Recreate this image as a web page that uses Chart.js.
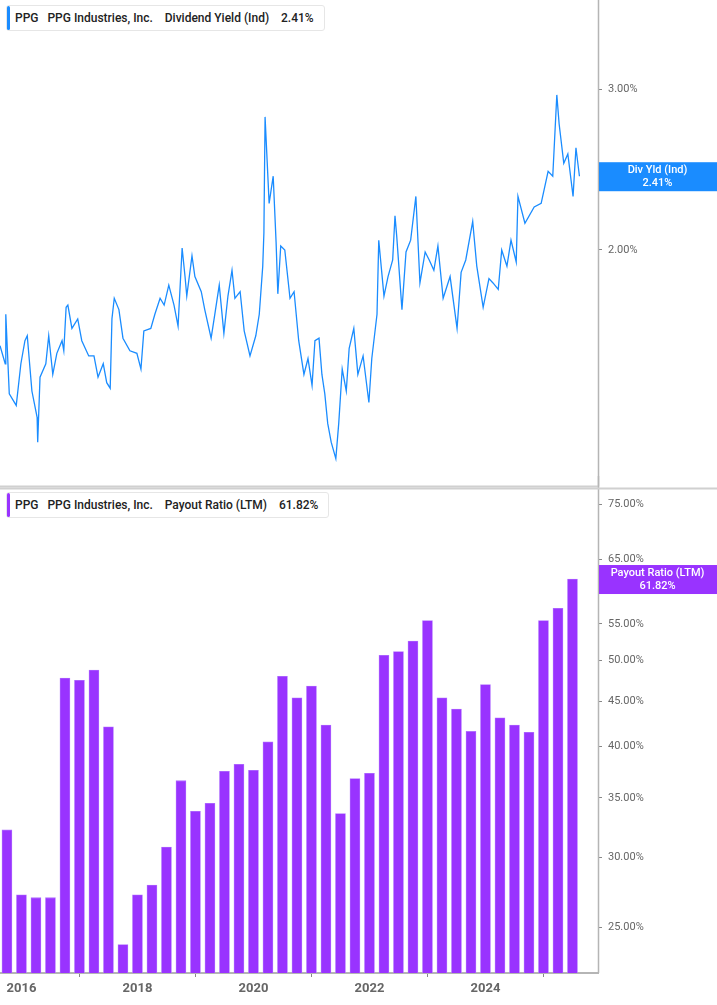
<!DOCTYPE html>
<html>
<head>
<meta charset="utf-8">
<script src="https://cdn.jsdelivr.net/npm/chart.js@4.4.0/dist/chart.umd.min.js"></script>
<style>
  body { margin: 0; background: #fff; font-family: Roboto, sans-serif; }
  .wrap { position: relative; width: 717px; height: 1005px; overflow: hidden; }
  .pane { position: absolute; left: 0; width: 717px; }
  .legend { position: absolute; left: 6px; background: #fff; border: 1px solid #e6e6e6; border-radius: 3px;
            font-size: 12px; font-weight: 500; color: #222; padding: 5px 10px 5px 8px; white-space: pre; }
  .legend::before { content: ""; position: absolute; left: 0; top: 0; bottom: 0; width: 3px; border-radius: 2px; }
  #leg1::before { background: #1a8cff; }
  #leg2::before { background: #9933ff; }
</style>
</head>
<body>
<div class="wrap">
  <div class="pane" style="top:-7px;height:506px"><canvas id="yieldChart"></canvas></div>
  <div class="pane" style="top:476px;height:529px"><canvas id="payoutChart"></canvas></div>
  <div class="legend" id="leg1" style="top:5px">PPG   PPG Industries, Inc.    Dividend Yield (Ind)    2.41%</div>
  <div class="legend" id="leg2" style="top:492px">PPG   PPG Industries, Inc.    Payout Ratio (LTM)    61.82%</div>
</div>
<script>
// ======= data =======
const yieldDates = [2015.63, 2015.72, 2015.73, 2015.79, 2015.91, 2015.99, 2016.06, 2016.10, 2016.18, 2016.27, 2016.28, 2016.32,
  2016.42, 2016.47, 2016.54, 2016.61, 2016.70, 2016.73, 2016.77, 2016.80, 2016.87, 2016.97, 2017.04, 2017.16, 2017.25,
  2017.32, 2017.41, 2017.47, 2017.53, 2017.56, 2017.60, 2017.68, 2017.75, 2017.87, 2017.99, 2018.06, 2018.11, 2018.23,
  2018.30, 2018.39, 2018.46, 2018.54, 2018.63, 2018.70, 2018.77, 2018.82, 2018.85, 2018.94, 2018.99, 2019.10, 2019.16,
  2019.27, 2019.34, 2019.41, 2019.49, 2019.56, 2019.63, 2019.68, 2019.77, 2019.84, 2019.94, 2020.04, 2020.10, 2020.16,
  2020.18, 2020.20, 2020.23, 2020.27, 2020.34, 2020.39, 2020.42, 2020.47, 2020.54, 2020.63, 2020.70, 2020.78, 2020.87,
  2020.94, 2021.01, 2021.06, 2021.13, 2021.18, 2021.23, 2021.28, 2021.34, 2021.42, 2021.47, 2021.53, 2021.60, 2021.65,
  2021.73, 2021.80, 2021.89, 2021.99, 2022.04, 2022.13, 2022.16, 2022.25, 2022.32, 2022.40, 2022.44, 2022.47, 2022.56,
  2022.63, 2022.71, 2022.80, 2022.87, 2022.96, 2023.03, 2023.11, 2023.18, 2023.27, 2023.39, 2023.51, 2023.58, 2023.66,
  2023.78, 2023.80, 2023.85, 2023.96, 2024.06, 2024.13, 2024.22, 2024.28, 2024.37, 2024.44, 2024.53, 2024.56, 2024.68,
  2024.84, 2024.96, 2025.08, 2025.16, 2025.23, 2025.27, 2025.35, 2025.42, 2025.51, 2025.56, 2025.62];
const yieldValues = [1.57, 1.50, 1.70, 1.39, 1.35, 1.50, 1.59, 1.61, 1.40, 1.31, 1.23, 1.45,
  1.50, 1.61, 1.46, 1.54, 1.59, 1.55, 1.73, 1.74, 1.64, 1.68, 1.59, 1.53, 1.53,
  1.45, 1.50, 1.43, 1.41, 1.68, 1.77, 1.72, 1.60, 1.55, 1.54, 1.48, 1.63, 1.64,
  1.70, 1.77, 1.74, 1.83, 1.74, 1.65, 2.01, 1.87, 1.78, 1.97, 1.87, 1.80, 1.72,
  1.60, 1.71, 1.83, 1.62, 1.78, 1.90, 1.77, 1.80, 1.63, 1.53, 1.61, 1.70, 1.92,
  2.09, 2.80, 2.55, 2.25, 2.41, 2.04, 1.79, 2.02, 2.00, 1.77, 1.80, 1.59, 1.46,
  1.52, 1.42, 1.59, 1.60, 1.46, 1.39, 1.29, 1.23, 1.18, 1.29, 1.48, 1.40, 1.56,
  1.64, 1.46, 1.53, 1.36, 1.52, 1.70, 2.05, 1.78, 1.87, 1.95, 2.18, 2.07, 1.72,
  1.99, 2.05, 2.29, 1.84, 1.99, 1.95, 1.90, 2.02, 1.77, 1.87, 1.64, 1.89, 1.95,
  2.15, 2.08, 1.92, 1.73, 1.86, 1.84, 1.81, 2.00, 1.92, 2.05, 1.94, 2.29, 2.14,
  2.23, 2.25, 2.44, 2.41, 2.96, 2.75, 2.49, 2.55, 2.29, 2.59, 2.41];
const payoutDates = [2015.75, 2016.0, 2016.25, 2016.5, 2016.75, 2017.0, 2017.25, 2017.5, 2017.75, 2018.0,
  2018.25, 2018.5, 2018.75, 2019.0, 2019.25, 2019.5, 2019.75, 2020.0, 2020.25, 2020.5,
  2020.75, 2021.0, 2021.25, 2021.5, 2021.75, 2022.0, 2022.25, 2022.5, 2022.75, 2023.0,
  2023.25, 2023.5, 2023.75, 2024.0, 2024.25, 2024.5, 2024.75, 2025.0, 2025.25, 2025.5];
const payoutValues = [32.2, 27.2, 27.0, 27.0, 47.8, 47.5, 48.8, 42.1, 23.9, 27.2,
  27.9, 30.8, 36.6, 33.8, 34.5, 37.5, 38.2, 37.6, 40.5, 48.0,
  45.4, 46.8, 42.3, 33.6, 36.8, 37.3, 50.7, 51.2, 52.6, 55.5,
  45.4, 44.1, 41.6, 47.0, 43.1, 42.3, 41.5, 55.5, 57.3, 61.82];
const yieldTicks = [2, 3];
const payoutTicks = [25, 30, 35, 40, 45, 50, 55, 65, 75];
const yearTicks = [2016, 2018, 2020, 2022, 2024];

const X_MIN = 2015.63, X_MAX = 2025.94;
const AXIS_W = 119;

// ======= plugins =======
const frame = {
  id: 'frame',
  afterDraw(chart, args, opts) {
    const { ctx, chartArea: a } = chart;
    ctx.save();
    ctx.strokeStyle = '#b5b5b5';
    ctx.lineWidth = 1.5;
    ctx.beginPath();
    ctx.moveTo(a.right + 0.5, 0);
    ctx.lineTo(a.right + 0.5, a.bottom);
    ctx.stroke();
    ctx.strokeStyle = '#d0d0d0';
    ctx.lineWidth = 2;
    ctx.beginPath();
    const ly = opts.lineY === 'top' ? a.top : a.bottom;
    ctx.moveTo(0, ly);
    ctx.lineTo(opts.lineY === 'top' ? chart.width : a.right, ly);
    ctx.stroke();
    // value tag
    const y = chart.scales.y.getPixelForValue(opts.value);
    ctx.fillStyle = opts.color;
    ctx.fillRect(a.right + 1, y - 14, chart.width - a.right, 29);
    ctx.fillStyle = '#fff';
    ctx.font = '500 11px Roboto';
    ctx.textAlign = 'center';
    ctx.textBaseline = 'middle';
    const cx = (a.right + chart.width) / 2;
    ctx.fillText(opts.label, cx, y - 6);
    ctx.fillText(opts.value.toFixed(2) + '%', cx, y + 7);
    ctx.restore();
  }
};

function yAxis(min, max, ticks) {
  return {
    type: 'logarithmic', position: 'right', min: min, max: max,
    afterBuildTicks: s => { s.ticks = ticks.map(v => ({ value: v })); },
    afterFit: s => { s.width = AXIS_W; },
    grid: { drawOnChartArea: false, tickLength: 4, color: '#888', drawTicks: true },
    border: { display: false },
    ticks: { color: '#666', font: { family: 'Roboto', size: 11 }, padding: 6,
             callback: v => v.toFixed(2) + '%' }
  };
}

// ======= Dividend yield line =======
new Chart(document.getElementById('yieldChart'), {
  type: 'line',
  data: {
    datasets: [{
      data: yieldDates.map((d, i) => ({ x: d, y: yieldValues[i] })),
      borderColor: '#1a8cff', borderWidth: 1.3, pointRadius: 0, tension: 0
    }]
  },
  options: {
    responsive: true, maintainAspectRatio: false, animation: false,
    layout: { padding: 0 },
    plugins: { legend: { display: false }, tooltip: { enabled: false },
      frame: { value: 2.41, label: 'Div Yld (Ind)', color: '#1a8cff', lineY: 'bottom' } },
    scales: {
      x: { type: 'linear', min: X_MIN, max: X_MAX, display: false },
      y: yAxis(1.10, 3.71, yieldTicks)
    }
  },
  plugins: [frame]
});

// ======= Payout ratio bars =======
new Chart(document.getElementById('payoutChart'), {
  type: 'bar',
  data: {
    datasets: [{
      data: payoutDates.map((d, i) => ({ x: d, y: payoutValues[i] })),
      backgroundColor: '#9933ff', borderColor: '#b070ff', borderWidth: 0.8,
      barThickness: 10
    }]
  },
  options: {
    responsive: true, maintainAspectRatio: false, animation: false,
    layout: { padding: 0 },
    plugins: { legend: { display: false }, tooltip: { enabled: false },
      frame: { value: 61.82, label: 'Payout Ratio (LTM)', color: '#9933ff', lineY: 'top' } },
    scales: {
      x: {
        type: 'linear', min: X_MIN, max: X_MAX, offset: false,
        afterBuildTicks: s => { s.ticks = yearTicks.map(v => ({ value: v })); },
        afterFit: s => { s.height = 32; },
        grid: { drawOnChartArea: false, tickLength: 4, color: '#888' },
        border: { color: '#b5b5b5', width: 2 },
        ticks: { color: '#666', font: { family: 'Roboto', size: 13, weight: 'bold' }, padding: 4,
                 maxRotation: 0, callback: v => String(v) }
      },
      y: yAxis(22.2, 78.2, payoutTicks)
    }
  },
  plugins: [frame]
});
</script>
</body>
</html>
